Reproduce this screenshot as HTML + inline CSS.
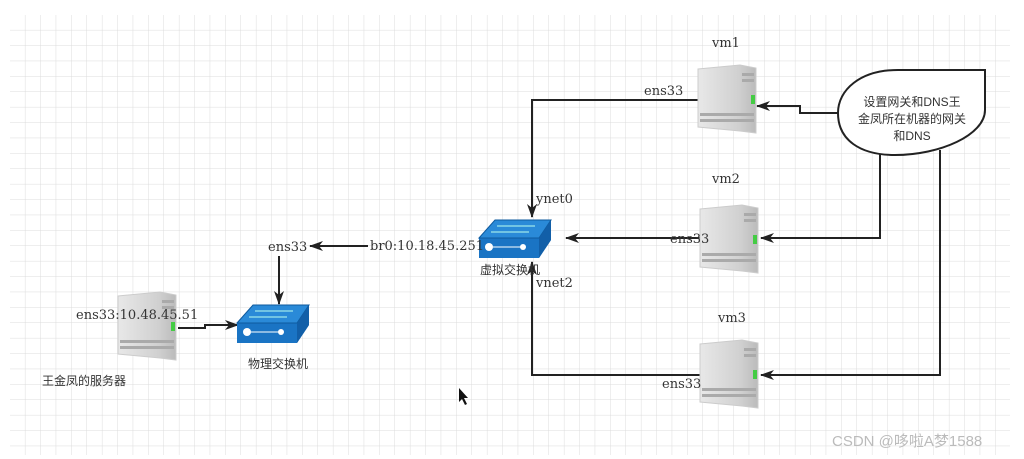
<!DOCTYPE html>
<html><head><meta charset="utf-8"><style>
html,body{margin:0;padding:0;background:#fff;width:1024px;height:459px;overflow:hidden}
svg text{font-family:"DejaVu Serif","Liberation Serif","Noto Sans CJK SC",serif;fill:#333}
.cj{font-family:"Liberation Sans","Noto Sans CJK SC",sans-serif;fill:#333}
</style></head><body>
<svg width="1024" height="459" xmlns="http://www.w3.org/2000/svg">
<defs>
<pattern id="g" x="10" y="15" width="15.4" height="15.4" patternUnits="userSpaceOnUse">
<path d="M15.4 0V15.4H0" fill="none" stroke="#dcdcdc" stroke-width="1"/>
</pattern>
<marker id="a" markerWidth="14" markerHeight="10" refX="13" refY="5" orient="auto" markerUnits="userSpaceOnUse">
<path d="M0 0L14 5L0 10L4 5z" fill="#222"/></marker>
<linearGradient id="sv" x1="0" x2="1"><stop offset="0" stop-color="#e8e8e8"/><stop offset="0.7" stop-color="#d0d0d0"/><stop offset="1" stop-color="#bbb"/></linearGradient>
<g id="srv">
<path d="M0 4L42 0L58 3V68L42 66L0 62z" fill="url(#sv)" stroke="#ccc"/>
<rect x="44" y="8" width="12" height="3" fill="#aaa"/>
<rect x="44" y="14" width="12" height="3" fill="#aaa"/>
<rect x="2" y="48" width="54" height="3" fill="#aaa"/>
<rect x="2" y="54" width="54" height="3" fill="#aaa"/>
<rect x="53" y="30" width="4" height="9" fill="#4c4"/>
</g>
<g id="sw">
<path d="M0 18L16 0H72V20L60 38H0z" fill="#1a74c4"/>
<path d="M0 18L16 0H72L60 18z" fill="#2a8ad8" stroke="#0e5a9e"/>
<path d="M60 18L72 0V20L60 38z" fill="#125fa8"/>
<line x1="18" y1="6" x2="56" y2="6" stroke="#bfe" stroke-width="1"/>
<line x1="12" y1="12" x2="50" y2="12" stroke="#bfe" stroke-width="1"/>
<circle cx="10" cy="27" r="4" fill="#fff"/><circle cx="44" cy="27" r="3" fill="#fff"/>
<line x1="14" y1="27" x2="42" y2="27" stroke="#fff"/>
</g>
</defs>
<rect x="10" y="15" width="1000" height="440" fill="url(#g)"/>
<g stroke="#222" stroke-width="2" fill="none">
<path d="M700 100H532V217" marker-end="url(#a)"/>
<path d="M840 113H800V106H757" marker-end="url(#a)"/>
<path d="M700 238H566" marker-end="url(#a)"/>
<path d="M880 150V238H761" marker-end="url(#a)"/>
<path d="M940 150V375H761" marker-end="url(#a)"/>
<path d="M700 375H532V262" marker-end="url(#a)"/>
<path d="M368 246H310" marker-end="url(#a)"/>
<path d="M279 256V304" marker-end="url(#a)"/>
<path d="M178 328H205V325H238" marker-end="url(#a)"/>
</g>
<use href="#srv" x="698" y="65"/>
<use href="#srv" x="700" y="205"/>
<use href="#srv" x="700" y="340"/>
<use href="#srv" x="118" y="292"/>
<use href="#sw" x="479" y="220"/>
<use href="#sw" x="237" y="305"/>
<path d="M985 70H898C860 70 838 90 838 113C838 140 860 155 895 155C940 155 985 135 985 110z" fill="#fff" stroke="#222" stroke-width="2"/>
<text class="cj" x="912" y="106" font-size="12" text-anchor="middle">设置网关和DNS王</text>
<text class="cj" x="912" y="123" font-size="12" text-anchor="middle">金凤所在机器的网关</text>
<text class="cj" x="912" y="140" font-size="12" text-anchor="middle">和DNS</text>
<g font-size="13">
<text x="712" y="47">vm1</text>
<text x="712" y="183">vm2</text>
<text x="718" y="322">vm3</text>
<text x="644" y="95">ens33</text>
<text x="670" y="243">ens33</text>
<text x="662" y="388">ens33</text>
<text x="536" y="203">ynet0</text>
<text x="536" y="287">vnet2</text>
<text x="370" y="250">br0:10.18.45.251</text>
<text x="268" y="251">ens33</text>
<text x="76" y="319">ens33:10.48.45.51</text>
</g>
<text class="cj" x="480" y="274" font-size="12">虚拟交换机</text>
<text class="cj" x="248" y="368" font-size="12">物理交换机</text>
<text class="cj" x="42" y="385" font-size="12">王金凤的服务器</text>
<text class="cj" x="832" y="446" font-size="15" style="fill:#bbb">CSDN @哆啦A梦1588</text>
<path d="M459 388V402L462 399L465 405L467 404L464 398H468z" fill="#111"/>
</svg>
</body></html>
